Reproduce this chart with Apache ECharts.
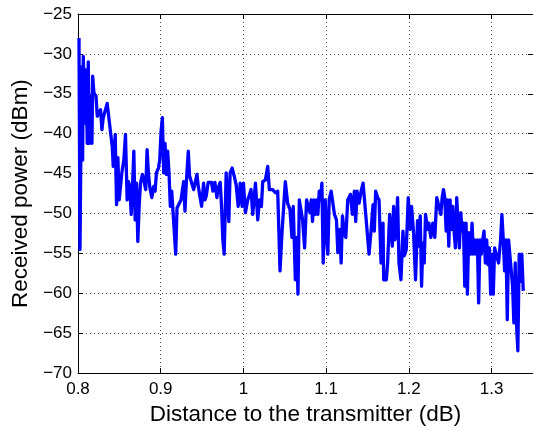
<!DOCTYPE html>
<html>
<head>
<meta charset="utf-8">
<script src="https://cdn.jsdelivr.net/npm/echarts@6/dist/echarts.min.js"></script>
<style>
html,body{margin:0;padding:0;background:#fff;}
#chart{width:533px;height:431px;}
</style>
</head>
<body>
<div id="chart"></div>
<script>
var xVals = [
0.8012,0.8024,0.8044,0.8056,0.8064,0.8084,0.8096,0.8112,0.8124,0.8137,0.8153,0.8169,0.8177,0.8193,0.8217,0.8233,0.8257,0.8273,0.8289,0.8305,
0.8329,0.8353,0.8373,0.8394,0.8414,0.8426,0.8438,0.8450,0.8466,0.8482,0.8498,0.8514,0.8530,0.8554,0.8574,0.8594,0.8610,0.8627,0.8643,0.8659,
0.8675,0.8691,0.8707,0.8723,0.8739,0.8755,0.8779,0.8803,0.8819,0.8835,0.8851,0.8867,0.8892,0.8916,0.8932,0.8948,0.8972,0.8988,0.9004,0.9020,
0.9036,0.9052,0.9068,0.9084,0.9100,0.9116,0.9133,0.9157,0.9181,0.9197,0.9221,0.9245,0.9269,0.9277,0.9293,0.9309,0.9333,0.9349,0.9373,0.9398,
0.9422,0.9438,0.9454,0.9470,0.9494,0.9518,0.9534,0.9550,0.9574,0.9598,0.9614,0.9631,0.9655,0.9679,0.9695,0.9719,0.9735,0.9751,0.9767,0.9791,
0.9807,0.9823,0.9839,0.9863,0.9888,0.9912,0.9936,0.9952,
0.9960,0.9984,1.0000,1.0024,1.0052,1.0092,1.0112,1.0145,1.0173,1.0193,1.0217,1.0233,1.0265,1.0293,1.0313,1.0353,1.0386,1.0414,1.0442,1.0466,
1.0506,1.0534,1.0562,1.0586,1.0602,1.0627,1.0643,1.0659,1.0675,1.0699,1.0715,1.0739,1.0763,1.0787,1.0803,1.0819,1.0835,1.0851,1.0867,1.0884,
1.0900,1.0916,1.0932,1.0948,1.0964,1.0988,1.1004,1.1020,1.1036,1.1060,1.1084,1.1100,1.1124,1.1141,1.1165,1.1181,1.1197,1.1221,1.1237,1.1261,
1.1293,1.1317,1.1341,1.1357,1.1373,1.1398,1.1422,1.1446,1.1470,1.1494,1.1518,1.1542,1.1566,1.1582,1.1598,1.1622,1.1639,
1.1663,1.1687,1.1695,1.1727,1.1743,1.1767,1.1783,1.1799,1.1815,1.1831,1.1847,1.1863,1.1880,1.1904,1.1928,1.1944,1.1968,1.1992,1.2016,1.2032,
1.2056,1.2080,1.2104,1.2120,1.2137,1.2153,1.2169,1.2185,1.2201,1.2225,1.2241,1.2265,1.2289,1.2313,1.2337,1.2361,1.2386,1.2402,1.2418,1.2434,
1.2450,1.2466,1.2482,1.2498,1.2514,1.2530,1.2546,1.2562,1.2578,1.2594,1.2610,1.2627,1.2643,1.2659,1.2675,1.2691,1.2707,1.2723,1.2747,1.2763,
1.2779,1.2795,1.2811,1.2827,1.2843,1.2859,1.2876,1.2892,1.2908,1.2924,1.2940,1.2956,1.2972,1.2988,1.3004,1.3020,1.3036,1.3060,1.3084,1.3108,
1.3124,1.3141,1.3157,1.3173,1.3189,1.3205,1.3221,1.3237,1.3253,1.3269,1.3285,1.3301,1.3317,1.3333,1.3349,1.3365,1.3382
];
var powerVals = [
-28.0,-54.5,-31.6,-43.3,-30.3,-38.7,-32.0,-41.2,-31.0,-41.2,-35.3,-41.2,-32.8,-34.9,-35.3,-37.8,-38.0,-37.0,-39.5,-38.0,
-38.0,-36.2,-36.2,-39.9,-41.6,-44.1,-44.1,-40.1,-48.9,-43.0,-48.3,-48.3,-44.9,-43.3,-40.1,-48.3,-46.0,-46.6,-50.1,-46.6,
-42.2,-50.8,-46.2,-53.5,-49.1,-46.2,-45.1,-45.1,-47.0,-42.0,-44.9,-46.6,-48.0,-46.6,-47.2,-44.9,-44.3,-43.3,-39.7,-38.0,
-44.9,-41.2,-45.1,-42.2,-44.9,-49.1,-47.2,-47.2,-55.1,-49.3,-49.1,-48.3,-48.3,-46.0,-49.7,-46.2,-42.2,-45.3,-45.5,-47.0,
-47.0,-45.1,-46.6,-46.8,-49.1,-46.2,-48.3,-47.8,-46.1,-46.1,-46.1,-47.2,-46.1,-48.0,-46.8,-46.1,-49.1,-53.3,-55.1,-44.9,
-44.9,-51.0,-44.9,-44.3,-45.3,-46.4,-49.1,-47.8,
-46.2,-49.1,-46.2,-49.9,-48.3,-47.0,-50.1,-46.2,-50.8,-48.3,-49.1,-46.0,-45.8,-44.1,-47.0,-47.0,-47.4,-47.2,-57.2,-52.4,
-46.0,-48.7,-49.5,-53.0,-49.1,-58.3,-53.0,-60.1,-48.3,-48.3,-50.8,-54.3,-48.3,-48.3,-49.9,-48.3,-51.0,-48.3,-50.1,-48.3,
-50.1,-47.2,-48.3,-46.2,-56.2,-48.3,-52.6,-55.1,-48.3,-47.2,-47.2,-50.1,-50.8,-54.9,-52.0,-56.2,-50.3,-52.6,-53.0,-48.3,
-47.6,-50.1,-47.2,-51.0,-47.2,-48.7,-47.2,-46.2,-49.1,-49.3,-55.1,-52.2,-48.9,-52.2,-47.2,-48.0,-48.3,
-56.2,-51.2,-58.3,-58.3,-56.2,-50.1,-50.1,-54.1,-49.1,-53.3,-52.2,-48.0,-56.2,-58.3,-52.2,-55.3,-54.5,-48.0,-52.0,-49.1,
-52.4,-58.3,-50.9,-54.1,-50.3,-59.1,-53.7,-56.2,-50.1,-52.0,-51.2,-53.0,-51.2,-53.0,-48.0,-48.0,-50.1,-48.0,-47.0,-48.0,
-52.2,-48.3,-54.1,-48.3,-52.0,-49.1,-52.2,-54.3,-48.0,-51.4,-54.3,-49.9,-52.2,-51.2,-59.1,-51.2,-60.1,-52.4,-55.1,-51.2,
-55.1,-53.3,-55.1,-53.3,-61.2,-53.3,-55.1,-53.3,-52.2,-56.2,-53.3,-56.4,-54.3,-60.1,-55.1,-60.1,-54.3,-54.1,-56.2,-53.3,
-50.1,-53.3,-57.2,-53.3,-63.3,-53.3,-53.3,-57.2,-59.1,-63.7,-56.2,-63.9,-67.2,-55.1,-58.5,-55.1,-59.7
];
var xTickVals = [0.8, 0.9, 1.0, 1.1, 1.2, 1.3];
var xTickLabels = ['0.8', '0.9', '1', '1.1', '1.2', '1.3'];
var yTickVals = [-70, -65, -60, -55, -50, -45, -40, -35, -30, -25];
var yTickLabels = ['\u221270', '\u221265', '\u221260', '\u221255', '\u221250', '\u221245', '\u221240', '\u221235', '\u221230', '\u221225'];

var seriesData = xVals.map(function (x, i) { return [x, powerVals[i]]; });

function labelFor(vals, labels) {
  return function (v) {
    for (var i = 0; i < vals.length; i++) {
      if (Math.abs(vals[i] - v) < 1e-6) return labels[i];
    }
    return '';
  };
}

var FONT = 'Liberation Sans, Arial, Helvetica, sans-serif';
var gridLine = { show: true, lineStyle: { color: '#555', width: 1, type: [1, 3] } };
var axisLineStyle = { show: true, onZero: false, lineStyle: { color: '#000', width: 1 } };
var tickStyle = { show: true, inside: true, length: 5, lineStyle: { color: '#000', width: 1 } };

var chart = echarts.init(document.getElementById('chart'), null, { renderer: 'canvas' });
chart.setOption({
  animation: false,
  backgroundColor: '#fff',
  grid: { left: 78, top: 14, width: 456.5, height: 361.5, containLabel: false },
  xAxis: [{
    type: 'value', min: 0.8, max: 1.35, interval: 0.1, position: 'bottom',
    axisLine: axisLineStyle, axisTick: tickStyle, splitLine: gridLine,
    axisLabel: { margin: 8, color: '#000', fontSize: 17, fontFamily: FONT,
      showMaxLabel: false, formatter: labelFor(xTickVals, xTickLabels) },
    name: 'Distance to the transmitter (dB)', nameLocation: 'middle', nameGap: 27,
    nameTextStyle: { color: '#000', fontSize: 22.5, fontFamily: FONT }
  }, {
    type: 'value', min: 0.8, max: 1.35, interval: 0.1, position: 'top',
    axisLine: axisLineStyle, axisTick: tickStyle, splitLine: { show: false },
    axisLabel: { show: false }
  }],
  yAxis: [{
    type: 'value', min: -70, max: -25, interval: 5, position: 'left',
    axisLine: axisLineStyle, axisTick: tickStyle, splitLine: gridLine,
    axisLabel: { margin: 6, color: '#000', fontSize: 17, fontFamily: FONT,
      formatter: labelFor(yTickVals, yTickLabels) },
    name: 'Received power (dBm)', nameLocation: 'middle', nameGap: 45,
    nameTextStyle: { color: '#000', fontSize: 22.5, fontFamily: FONT }
  }, {
    type: 'value', min: -70, max: -25, interval: 5, position: 'right',
    axisLine: axisLineStyle, axisTick: tickStyle, splitLine: { show: false },
    axisLabel: { show: false }
  }],
  series: [{
    type: 'line', xAxisIndex: 0, yAxisIndex: 0,
    data: seriesData, showSymbol: false, symbol: 'none',
    lineStyle: { color: '#0000ff', width: 3.3, join: 'round' },
    clip: true
  }]
});
</script>
</body>
</html>
